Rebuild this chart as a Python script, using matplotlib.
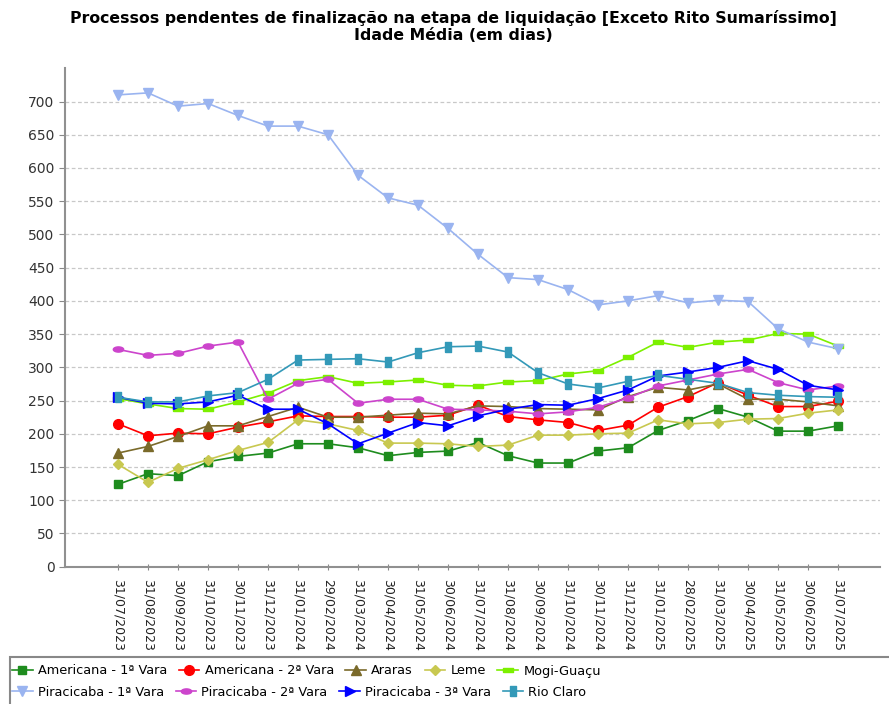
import numpy as np
from matplotlib import pyplot as plt
from matplotlib.patches import Rectangle

dates = ['31/07/2023', '31/08/2023', '30/09/2023', '31/10/2023', '30/11/2023', '31/12/2023',
         '31/01/2024', '29/02/2024', '31/03/2024', '30/04/2024', '31/05/2024', '30/06/2024',
         '31/07/2024', '31/08/2024', '30/09/2024', '31/10/2024', '30/11/2024', '31/12/2024',
         '31/01/2025', '28/02/2025', '31/03/2025', '30/04/2025', '31/05/2025', '30/06/2025',
         '31/07/2025']

americana1 = [124, 140, 137, 158, 166, 171, 185, 185, 179, 167, 172, 174, 187, 167, 156, 156,
              174, 179, 205, 220, 238, 225, 204, 204, 212]
americana2 = [215, 197, 201, 200, 210, 218, 227, 226, 226, 225, 225, 228, 243, 226, 221, 217,
              205, 213, 240, 256, 277, 258, 241, 241, 249]
araras = [171, 181, 196, 212, 212, 226, 240, 225, 225, 228, 231, 230, 242, 241, 238, 237,
          236, 256, 270, 266, 275, 252, 252, 248, 242]
leme = [154, 127, 148, 161, 175, 187, 221, 215, 205, 186, 186, 185, 181, 183, 198, 198,
        200, 201, 221, 215, 217, 222, 223, 231, 236]
mogi = [253, 245, 238, 237, 248, 261, 280, 286, 276, 278, 281, 273, 272, 278, 280, 290,
        295, 315, 338, 330, 338, 341, 351, 350, 332]
piracicaba1 = [710, 713, 693, 697, 679, 663, 663, 650, 589, 555, 544, 509, 470, 435, 432, 417,
               394, 400, 408, 397, 401, 399, 358, 338, 328]
piracicaba2 = [327, 318, 321, 332, 338, 252, 276, 282, 246, 252, 252, 237, 236, 234, 230, 233,
               240, 254, 272, 281, 290, 297, 277, 266, 272]
piracicaba3 = [255, 246, 245, 248, 258, 237, 237, 215, 185, 201, 217, 212, 227, 237, 244, 243,
               253, 266, 287, 293, 300, 310, 297, 273, 266]
rio_claro = [255, 248, 248, 257, 262, 282, 311, 312, 313, 308, 322, 331, 332, 323, 292, 275,
             269, 279, 288, 282, 276, 262, 258, 256, 255]

# custom marker shapes
hrect = [(-1, -0.45), (1, -0.45), (1, 0.45), (-1, 0.45), (-1, -0.45)]
vrect = [(-0.6, -1), (0.6, -1), (0.6, 1), (-0.6, 1), (-0.6, -1)]
t = np.linspace(0, 2 * np.pi, 30)
ellipse = list(zip(np.cos(t), 0.5 * np.sin(t)))

series = [
    ('Americana - 1ª Vara', americana1, '#1e8c1e', 's', 6.3),
    ('Americana - 2ª Vara', americana2, '#ff0000', 'o', 7),
    ('Araras', araras, '#7a6a2a', '^', 7),
    ('Leme', leme, '#c8c850', 'D', 5),
    ('Mogi-Guaçu', mogi, '#7cf000', hrect, 7.5),
    ('Piracicaba - 1ª Vara', piracicaba1, '#9ab4f0', 'v', 7.5),
    ('Piracicaba - 2ª Vara', piracicaba2, '#cc44cc', ellipse, 7.5),
    ('Piracicaba - 3ª Vara', piracicaba3, '#0000ff', '>', 7.5),
    ('Rio Claro', rio_claro, '#3399b8', vrect, 7.5),
]

fig = plt.figure(figsize=(8.89, 7.04), dpi=100)
ax = fig.add_axes([0.073, 0.195, 0.917, 0.708])

x = np.arange(len(dates))
handles = []
for name, vals, col, mk, ms in series:
    ln, = ax.plot(x, vals, color=col, marker=mk, markersize=ms, linewidth=1.2,
                  markeredgecolor=col, label=name)
    handles.append(ln)

ax.set_xlim(-1.77, 25.4)
ax.set_ylim(0, 750)
ax.set_yticks(np.arange(0, 701, 50))
ax.yaxis.grid(True, color='#c8c8c8', linestyle=(0, (3, 2)), linewidth=0.9)
ax.set_axisbelow(True)
ax.set_xticks(x)
ax.set_xticklabels(dates, rotation=-90, fontsize=9, color='#222222')
ax.tick_params(axis='y', labelsize=10, colors='#333333', length=4, color='#888888')
ax.tick_params(axis='x', direction='inout', length=5, color='#888888', pad=6)
for s in ['top', 'right']:
    ax.spines[s].set_visible(False)
for s in ['left', 'bottom']:
    ax.spines[s].set_color('#909090')
    ax.spines[s].set_linewidth(1.5)

fig.text(0.51, 0.974, 'Processos pendentes de finalização na etapa de liquidação [Exceto Rito Sumaríssimo]',
         ha='center', va='center', fontsize=11.3, fontweight='bold')
fig.text(0.51, 0.949, 'Idade Média (em dias)', ha='center', va='center', fontsize=11.3, fontweight='bold')

# legend box
fig.patches.append(Rectangle((10 / 889, -0.01), 0.99, (704 - 657) / 704 + 0.01,
                             transform=fig.transFigure, fill=False, edgecolor='#888888',
                             linewidth=1.5))
leg_kw = dict(frameon=False, fontsize=9.3, handlelength=1.6, handletextpad=0.4,
              columnspacing=0.9, borderpad=0, borderaxespad=0, loc='center left')
fig.legend(handles=handles[:5], ncol=5, bbox_to_anchor=(12 / 889, 1 - 671 / 704), **leg_kw)
fig.legend(handles=handles[5:], ncol=4, bbox_to_anchor=(12 / 889, 1 - 692 / 704), **leg_kw)

plt.savefig('out.png', dpi=100)
